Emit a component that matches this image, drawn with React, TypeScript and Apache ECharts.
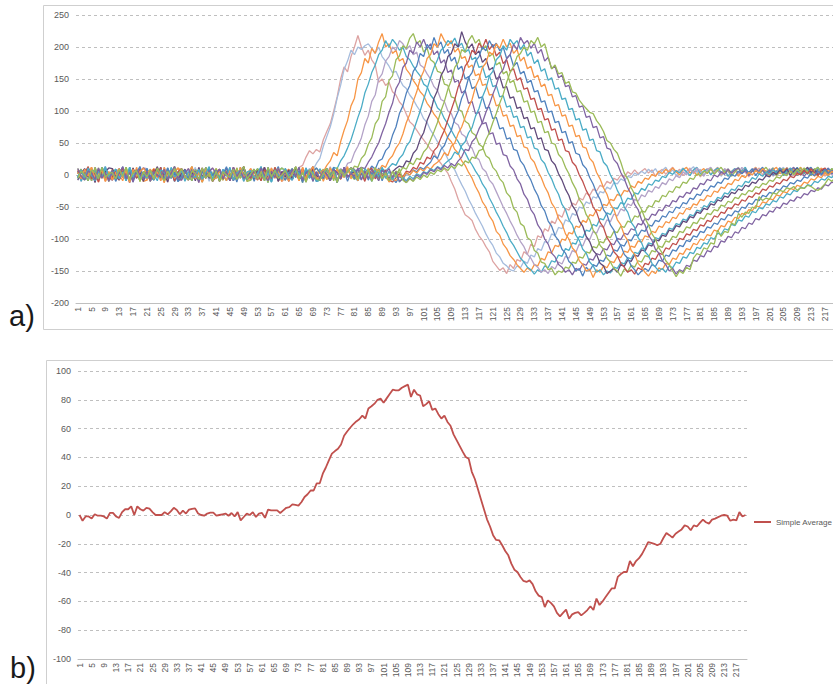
import React, { useEffect, useRef } from "react";
import * as echarts from "echarts";

// Category labels 1..220 (sample index)
const CATEGORIES: string[] = Array.from({ length: 220 }, (_, i) => String(i + 1));

const SERIES_COLORS = [
  "#DDA3A2", "#A5BCDD", "#F79646", "#4BACC6", "#B3A2C7", "#9BBB59",
  "#8064A2", "#4F81BD", "#F79646", "#4BACC6", "#604A7B", "#9BBB59",
  "#C0504D", "#4F81BD", "#F79646", "#4BACC6", "#8064A2", "#9BBB59",
];

const S01 = [
  4, -6, 9, -2, 12, -8, 3, 7, -10, 5,
  -3, 8, -7, 11, 0, -9, 6, -4, 10, -1,
  7, -5, 2, 13, -6, 4, -11, 8, 1, -7,
  -8, 3, 10, -4, 6, -12, 9, -2, 5, 11,
  2, 9, -6, 5, -9, 12, -3, 7, -5, 0,
  10, -2, -8, 6, 3, -7, 11, -5, 4, -10,
  -5, 6, 1,
  5, 12, 15, 28, 38, 33, 40, 36, 55, 68,
  80, 100, 122, 150, 169, 161, 185, 200, 218, 200,
  187, 195, 180, 172, 145, 150, 140, 145, 130, 125,
  114, 108, 95, 83, 78, 70, 62, 55, 48, 40,
  35, 25, 18, 10, 3, -10, -22, -38, -50, -62,
  -66, -71, -85, -95, -102, -112, -120, -135, -142, -149,
  -145, -154, -140, -146, -132, -135, -120, -124, -108, -112,
  -95, -98, -84, -88, -72, -76, -62, -66, -52, -55,
  -44, -47, -36, -39, -28, -32, -22, -25, -16, -19,
  -10, -13, -5, -8, 0, -4, 5, 1, 8, 2,
  6, 10, 3, 8, -2, 5, 9, 1, 7, 12,
  4, 9, -1, 6, 11, 2, 8, -3, 5, 10,
  1, 7, 12, 3, 9, -2, 6, 10, 0, 8,
  4, -3, 9, 5, 11, 0, 7, 3, 10, -2,
  6, 9, 2, 8, -1, 5, 11, 4, 7, 0,
  8, 3, 10, -2, 6, 9, 2,
];

const S02 = [
  -3, 8, -7, 11, 0, -9, 6, -4, 10, -1,
  6, -10, 5, 0, -4, 9, -7, 3, 13, -6,
  2, 9, -6, 5, -9, 12, -3, 7, -5, 0,
  4, -6, 9, -2, 12, -8, 3, 7, -10, 5,
  -5, 6, 1, -9, 8, 4, -6, 12, -3, 2,
  7, -5, 2, 13, -6, 4, -11, 8, 1, -7,
  10, -2, -8, 6, 3, -7,
  4, 10, 8, 18, 26, 45, 60, 75, 95, 120,
  140, 165, 178, 195, 188, 200, 196, 202, 205, 198,
  190, 200, 185, 178, 170, 160, 162, 150, 140, 135,
  125, 118, 108, 100, 88, 82, 70, 62, 52, 45,
  36, 25, 15, 8, -4, -15, -25, -38, -48, -60,
  -70, -80, -92, -102, -110, -122, -128, -138, -142, -148,
  -150, -142, -145, -135, -138, -125, -128, -115, -118, -104,
  -106, -92, -95, -82, -84, -70, -73, -60, -63, -50,
  -52, -42, -45, -34, -36, -26, -28, -19, -22, -12,
  -14, -6, -9, -2, -4, 3, 0, 6, 2, 9,
  4, 10, 1, 7, 12, 3, 8, -1, 6, 11,
  2, 8, 13, 4, 9, 0, 6, 11, 3, 8,
  -2, 5, 10, 1, 7, 12, 4, 9, -1, 6,
  11, 3, 8, 0, 5, 10, 2, 7, 12, 4,
  9, 1, 6, 10, 3, 8, -1, 5, 11, 2,
  7, 3, 9, 1,
];

const S03 = [
  7, -5, 2, 13, -6, 4, -11, 8, 1, -7,
  10, -2, -8, 6, 3, -7, 11, -5, 4, -10,
  -8, 3, 10, -4, 6, -12, 9, -2, 5, 11,
  -3, 8, -7, 11, 0, -9, 6, -4, 10, -1,
  6, -10, 5, 0, -4, 9, -7, 3, 13, -6,
  4, -6, 9, -2, 12, -8, 3, 7, -10, 5,
  2, 9, -6, 5, -9, 12, -3, 7, -5,
  2, 8, 5, 15, 22, 35, 30, 52, 70, 85,
  108, 120, 150, 160, 182, 175, 198, 190, 208, 221,
  200, 205, 190, 195, 178, 182, 165, 158, 148, 140,
  130, 124, 112, 105, 95, 88, 76, 70, 58, 52,
  40, 34, 22, 15, 4, -5, -18, -28, -42, -50,
  -64, -72, -88, -94, -108, -115, -126, -132, -140, -146,
  -152, -145, -150, -140, -142, -130, -133, -120, -122, -110,
  -112, -100, -102, -90, -92, -80, -82, -71, -74, -62,
  -64, -54, -56, -46, -48, -38, -40, -30, -33, -24,
  -26, -17, -20, -10, -13, -5, -7, 1, -2, 6,
  2, 9, 4, 11, 5, 0, 8, 12, 3, 7,
  -1, 6, 10, 2, 9, 4, 11, 0, 6, 9,
  3, 8, -2, 5, 10, 1, 7, 12, 4, 8,
  0, 6, 11, 3, 9, -1, 5, 10, 2, 7,
  12, 4, 8, 0, 6, 10, 3, 9, 1, 5,
  8,
];

const S04 = [
  -5, 6, 1, -9, 8, 4, -6, 12, -3, 2,
  2, 9, -6, 5, -9, 12, -3, 7, -5, 0,
  4, -6, 9, -2, 12, -8, 3, 7, -10, 5,
  7, -5, 2, 13, -6, 4, -11, 8, 1, -7,
  -3, 8, -7, 11, 0, -9, 6, -4, 10, -1,
  -8, 3, 10, -4, 6, -12, 9, -2, 5, 11,
  6, -10, 5, 0, -4, 9, -7, 3, 13, -6,
  10, -2,
  5, 2, 12, 10, 22, 30, 42, 55, 72, 90,
  105, 128, 142, 160, 172, 188, 195, 210, 200, 212,
  205, 195, 200, 185, 180, 170, 162, 155, 142, 138,
  125, 118, 105, 100, 88, 80, 70, 60, 52, 42,
  35, 24, 16, 6, -2, -14, -22, -36, -46, -58,
  -68, -80, -90, -102, -110, -120, -130, -136, -144, -148,
  -155, -148, -152, -142, -145, -134, -136, -125, -127, -115,
  -118, -106, -108, -96, -98, -86, -88, -77, -80, -68,
  -70, -59, -62, -51, -53, -43, -46, -36, -38, -28,
  -30, -21, -24, -14, -16, -8, -10, -2, -4, 4,
  1, 7, 3, 10, 5, -1, 8, 12, 2, 6,
  9, 0, 7, 11, 4, 8, -2, 5, 10, 3,
  7, 12, 1, 6, 9, 3, 8, -1, 5, 11,
  2, 8, 4, 10, 0, 6, 12, 3, 7, 1,
  9, 5, 11, 2, 7, 4, 10, 3,
];

const S05 = [
  6, -10, 5, 0, -4, 9, -7, 3, 13, -6,
  -8, 3, 10, -4, 6, -12, 9, -2, 5, 11,
  10, -2, -8, 6, 3, -7, 11, -5, 4, -10,
  -5, 6, 1, -9, 8, 4, -6, 12, -3, 2,
  4, -6, 9, -2, 12, -8, 3, 7, -10, 5,
  2, 9, -6, 5, -9, 12, -3, 7, -5, 0,
  -3, 8, -7, 11, 0, -9, 6, -4, 10, -1,
  7, -5, 2, 13, -6,
  3, 10, 6, 18, 20, 35, 45, 58, 78, 92,
  115, 125, 150, 158, 178, 185, 200, 195, 210, 205,
  196, 202, 188, 192, 172, 168, 158, 150, 138, 132,
  118, 115, 100, 96, 82, 78, 64, 60, 46, 42,
  28, 24, 10, 5, -8, -14, -26, -38, -50, -60,
  -72, -82, -94, -104, -112, -124, -130, -140, -144, -152,
  -148, -154, -143, -147, -136, -139, -127, -130, -118, -121,
  -108, -111, -98, -101, -88, -91, -79, -82, -70, -73,
  -61, -64, -53, -56, -45, -48, -38, -41, -31, -34,
  -24, -27, -18, -21, -12, -15, -6, -9, -1, -4,
  5, 0, 9, 3, 11, 6, -2, 8, 12, 4,
  7, 1, 10, 5, -1, 9, 3, 12, 6, 0,
  8, 11, 2, 7, 4, 10, -2, 6, 9, 3,
  12, 5, 1, 8, 10, 4, 7, -1, 6, 11,
  3, 9, 5, 0, 8,
];

const S06 = [
  10, -2, -8, 6, 3, -7, 11, -5, 4, -10,
  4, -6, 9, -2, 12, -8, 3, 7, -10, 5,
  -3, 8, -7, 11, 0, -9, 6, -4, 10, -1,
  7, -5, 2, 13, -6, 4, -11, 8, 1, -7,
  6, -10, 5, 0, -4, 9, -7, 3, 13, -6,
  -5, 6, 1, -9, 8, 4, -6, 12, -3, 2,
  -8, 3, 10, -4, 6, -12, 9, -2, 5, 11,
  2, 9, -6, 5, -9, 12, -3, 7,
  6, 4, 14, 12, 26, 32, 48, 58, 80, 88,
  115, 122, 148, 155, 180, 186, 202, 198, 214, 221,
  205, 210, 192, 198, 180, 176, 162, 160, 142, 140,
  122, 120, 102, 100, 84, 80, 66, 62, 48, 44,
  30, 26, 12, 6, -6, -12, -28, -34, -52, -58,
  -76, -80, -98, -102, -118, -122, -136, -138, -148, -146,
  -156, -150, -152, -144, -146, -136, -138, -128, -130, -120,
  -122, -112, -114, -104, -106, -96, -98, -88, -90, -80,
  -82, -72, -74, -64, -66, -56, -58, -48, -50, -40,
  -42, -32, -34, -25, -27, -18, -20, -11, -13, -5,
  -7, 2, -1, 6, 3, 10, 1, 7, 12, 4,
  8, -2, 5, 11, 3, 9, 0, 6, 10, 2,
  7, 12, 4, 9, -1, 5, 10, 3, 8, 1,
  6, 11, 2, 8, 4, 10, -1, 7, 3, 9,
  5, 1,
];

const S07 = [
  2, 9, -6, 5, -9, 12, -3, 7, -5, 0,
  -8, 3, 10, -4, 6, -12, 9, -2, 5, 11,
  6, -10, 5, 0, -4, 9, -7, 3, 13, -6,
  10, -2, -8, 6, 3, -7, 11, -5, 4, -10,
  -3, 8, -7, 11, 0, -9, 6, -4, 10, -1,
  4, -6, 9, -2, 12, -8, 3, 7, -10, 5,
  7, -5, 2, 13, -6, 4, -11, 8, 1, -7,
  -5, 6, 1, -9, 8, 4, -6, 12, -3, 2,
  6,
  8, 12, 10, 20, 28, 40, 50, 66, 80, 98,
  112, 135, 145, 168, 175, 195, 190, 208, 200, 212,
  198, 205, 188, 194, 175, 180, 160, 164, 145, 148,
  128, 132, 112, 115, 96, 98, 80, 82, 64, 66,
  48, 50, 32, 30, 14, 8, -6, -14, -30, -38,
  -54, -62, -78, -86, -100, -108, -122, -128, -140, -144,
  -152, -148, -156, -146, -149, -139, -141, -131, -133, -123,
  -125, -115, -117, -107, -109, -99, -101, -91, -93, -84,
  -86, -76, -78, -68, -70, -61, -63, -54, -56, -47,
  -49, -40, -42, -33, -35, -27, -29, -20, -22, -13,
  -15, -7, -9, 0, -3, 5, 1, 9, 3, 8,
  11, 2, 7, -1, 6, 10, 4, 8, 0, 5,
  9, 3, 11, 6, 1, 8, 12, 4, 7, -2,
  5, 10, 3, 8, 0, 6, 11, 2, 7,
];

const S08 = [
  -3, 8, -7, 11, 0, -9, 6, -4, 10, -1,
  7, -5, 2, 13, -6, 4, -11, 8, 1, -7,
  4, -6, 9, -2, 12, -8, 3, 7, -10, 5,
  -5, 6, 1, -9, 8, 4, -6, 12, -3, 2,
  2, 9, -6, 5, -9, 12, -3, 7, -5, 0,
  6, -10, 5, 0, -4, 9, -7, 3, 13, -6,
  10, -2, -8, 6, 3, -7, 11, -5, 4, -10,
  -8, 3, 10, -4, 6, -12, 9, -2, 5, 11,
  3, -4, 8, 2,
  5, 14, 9, 22, 25, 38, 44, 62, 75, 96,
  108, 128, 140, 162, 170, 190, 185, 204, 196, 215,
  200, 208, 190, 196, 178, 184, 165, 170, 150, 154,
  135, 138, 120, 122, 104, 106, 88, 90, 72, 74,
  56, 58, 40, 38, 22, 15, 2, -8, -22, -32,
  -48, -56, -72, -80, -95, -102, -116, -122, -135, -140,
  -150, -146, -158, -144, -150, -140, -143, -133, -135, -125,
  -127, -117, -119, -109, -111, -101, -103, -93, -95, -86,
  -88, -78, -80, -71, -73, -64, -66, -57, -59, -50,
  -52, -43, -45, -36, -38, -30, -32, -23, -25, -17,
  -19, -11, -13, -5, -7, 1, -2, 6, 2, 9,
  4, 10, -1, 7, 12, 3, 8, 0, 6, 11,
  2, 8, 5, 10, -1, 7, 3, 9, 12, 4,
  8, 1, 6, 10, 3, 7,
];

const S09 = [
  4, -6, 9, -2, 12, -8, 3, 7, -10, 5,
  -5, 6, 1, -9, 8, 4, -6, 12, -3, 2,
  -8, 3, 10, -4, 6, -12, 9, -2, 5, 11,
  7, -5, 2, 13, -6, 4, -11, 8, 1, -7,
  10, -2, -8, 6, 3, -7, 11, -5, 4, -10,
  -3, 8, -7, 11, 0, -9, 6, -4, 10, -1,
  2, 9, -6, 5, -9, 12, -3, 7, -5, 0,
  6, -10, 5, 0, -4, 9, -7, 3, 13, -6,
  5, -3, 9, 2, 7, 4, 10,
  6, 15, 12, 24, 30, 42, 50, 64, 82, 95,
  115, 130, 150, 162, 182, 188, 205, 200, 221, 210,
  202, 210, 192, 198, 182, 185, 168, 172, 155, 158,
  140, 142, 125, 126, 108, 110, 92, 94, 76, 78,
  60, 62, 44, 42, 26, 20, 6, -4, -18, -28,
  -44, -52, -68, -76, -92, -100, -114, -120, -134, -140,
  -150, -147, -160, -148, -152, -142, -145, -135, -137, -127,
  -129, -119, -121, -111, -113, -103, -105, -95, -97, -88,
  -90, -80, -82, -73, -75, -66, -68, -59, -61, -52,
  -54, -45, -47, -38, -40, -32, -34, -25, -27, -19,
  -21, -13, -15, -7, -9, -1, -4, 4, 0, 7,
  3, 10, 5, -1, 8, 12, 2, 7, 11, 4,
  9, 0, 6, 10, 3, 8, -2, 5, 11, 2,
  7, 4, 9,
];

const S10 = [
  6, -10, 5, 0, -4, 9, -7, 3, 13, -6,
  2, 9, -6, 5, -9, 12, -3, 7, -5, 0,
  10, -2, -8, 6, 3, -7, 11, -5, 4, -10,
  -3, 8, -7, 11, 0, -9, 6, -4, 10, -1,
  -5, 6, 1, -9, 8, 4, -6, 12, -3, 2,
  7, -5, 2, 13, -6, 4, -11, 8, 1, -7,
  4, -6, 9, -2, 12, -8, 3, 7, -10, 5,
  -8, 3, 10, -4, 6, -12, 9, -2, 5, 11,
  -4, -9, 2, -6, 5, -2, 8, 3, 10, 6,
  12, 18, 15, 26, 32, 45, 52, 68, 84, 100,
  118, 135, 152, 168, 180, 195, 200, 210, 205, 214,
  200, 206, 192, 196, 180, 184, 168, 170, 152, 156,
  138, 140, 122, 124, 106, 108, 90, 92, 74, 76,
  58, 60, 42, 40, 24, 18, 4, -6, -20, -30,
  -46, -54, -70, -78, -94, -102, -116, -122, -136, -142,
  -152, -148, -156, -150, -153, -144, -146, -137, -139, -129,
  -131, -121, -123, -114, -116, -106, -108, -98, -100, -91,
  -93, -83, -85, -76, -78, -69, -71, -62, -64, -55,
  -57, -48, -50, -41, -43, -35, -37, -28, -30, -22,
  -24, -16, -18, -10, -12, -4, -7, 2, -2, 5,
  1, 8, 3, 10, -1, 6, 11, 4, 8, 0,
  5, 10, 2, 7, 12, 3, 9, -1, 6, 4,
];

const S11 = [
  -8, 3, 10, -4, 6, -12, 9, -2, 5, 11,
  10, -2, -8, 6, 3, -7, 11, -5, 4, -10,
  7, -5, 2, 13, -6, 4, -11, 8, 1, -7,
  2, 9, -6, 5, -9, 12, -3, 7, -5, 0,
  6, -10, 5, 0, -4, 9, -7, 3, 13, -6,
  4, -6, 9, -2, 12, -8, 3, 7, -10, 5,
  -3, 8, -7, 11, 0, -9, 6, -4, 10, -1,
  -5, 6, 1, -9, 8, 4, -6, 12, -3, 2,
  5, -8, 11, -3, 7, -9, 4, -5, 9, 2,
  -6, 5, 10,
  14, 12, 22, 20, 34, 40, 56, 66, 85, 98,
  120, 132, 155, 165, 185, 190, 205, 200, 224, 208,
  198, 205, 188, 194, 176, 182, 164, 168, 150, 154,
  136, 138, 120, 122, 104, 106, 88, 90, 72, 74,
  56, 58, 40, 38, 22, 16, 2, -8, -22, -32,
  -48, -56, -72, -80, -96, -104, -118, -124, -138, -142,
  -154, -150, -146, -152, -140, -143, -133, -135, -125, -127,
  -117, -119, -109, -111, -101, -103, -94, -96, -86, -88,
  -79, -81, -72, -74, -65, -67, -58, -60, -52, -54,
  -45, -47, -39, -41, -33, -35, -27, -29, -22, -24,
  -16, -18, -11, -13, -6, -8, -1, -3, 4, 1,
  8, 3, 10, -1, 6, 11, 2, 7, 12, 4,
  9, 0, 6, 10, 3, 8, 5,
];

const S12 = [
  2, 9, -6, 5, -9, 12, -3, 7, -5, 0,
  4, -6, 9, -2, 12, -8, 3, 7, -10, 5,
  6, -10, 5, 0, -4, 9, -7, 3, 13, -6,
  -5, 6, 1, -9, 8, 4, -6, 12, -3, 2,
  10, -2, -8, 6, 3, -7, 11, -5, 4, -10,
  -8, 3, 10, -4, 6, -12, 9, -2, 5, 11,
  7, -5, 2, 13, -6, 4, -11, 8, 1, -7,
  -3, 8, -7, 11, 0, -9, 6, -4, 10, -1,
  -7, 4, 10, -5, 8, -2, 12, -8, 3, -4,
  -9, -2, 6, 3, 12, 9,
  20, 16, 26, 24, 36, 42, 55, 68, 82, 100,
  115, 134, 148, 168, 176, 196, 192, 210, 218, 206,
  212, 196, 202, 185, 190, 172, 176, 158, 162, 144,
  148, 130, 132, 114, 116, 98, 100, 82, 84, 66,
  68, 50, 48, 32, 26, 12, 2, -12, -22, -38,
  -46, -62, -70, -86, -94, -110, -116, -130, -136, -146,
  -150, -158, -147, -151, -141, -144, -134, -136, -126, -128,
  -118, -120, -111, -113, -103, -105, -96, -98, -88, -90,
  -81, -83, -74, -76, -67, -69, -60, -62, -54, -56,
  -47, -49, -41, -43, -35, -37, -29, -31, -24, -26,
  -18, -20, -13, -15, -8, -10, -3, -5, 2, -1,
  6, 1, 9, 3, 11, 5, -1, 8, 12, 4,
  7, 2, 10, 5,
];

const S13 = [
  7, -5, 2, 13, -6, 4, -11, 8, 1, -7,
  -3, 8, -7, 11, 0, -9, 6, -4, 10, -1,
  4, -6, 9, -2, 12, -8, 3, 7, -10, 5,
  10, -2, -8, 6, 3, -7, 11, -5, 4, -10,
  2, 9, -6, 5, -9, 12, -3, 7, -5, 0,
  -5, 6, 1, -9, 8, 4, -6, 12, -3, 2,
  6, -10, 5, 0, -4, 9, -7, 3, 13, -6,
  -8, 3, 10, -4, 6, -12, 9, -2, 5, 11,
  9, -4, 3, -10, 6, 11, -6, 2, -3, 8,
  -8, -11, -4, 2, -3, 6, 4, 12, 9,
  20, 17, 28, 25, 38, 44, 58, 70, 86, 102,
  118, 138, 150, 170, 178, 195, 190, 206, 198, 212,
  196, 204, 186, 192, 174, 180, 162, 166, 148, 152,
  134, 136, 118, 120, 102, 104, 86, 88, 70, 72,
  54, 56, 38, 36, 20, 14, 0, -10, -24, -34,
  -50, -58, -74, -82, -98, -106, -120, -126, -138, -144,
  -152, -148, -155, -145, -148, -138, -140, -130, -132, -122,
  -124, -114, -116, -107, -109, -99, -101, -92, -94, -85,
  -87, -78, -80, -71, -73, -64, -66, -58, -60, -51,
  -53, -45, -47, -39, -41, -33, -35, -28, -30, -22,
  -24, -17, -19, -12, -14, -7, -9, -2, -4, 3,
  0, 7, 2, 10, 4, -1, 8, 11, 3, 6,
  9,
];

const S14 = [
  -5, 6, 1, -9, 8, 4, -6, 12, -3, 2,
  6, -10, 5, 0, -4, 9, -7, 3, 13, -6,
  10, -2, -8, 6, 3, -7, 11, -5, 4, -10,
  -3, 8, -7, 11, 0, -9, 6, -4, 10, -1,
  7, -5, 2, 13, -6, 4, -11, 8, 1, -7,
  2, 9, -6, 5, -9, 12, -3, 7, -5, 0,
  -8, 3, 10, -4, 6, -12, 9, -2, 5, 11,
  4, -6, 9, -2, 12, -8, 3, 7, -10, 5,
  -6, 10, 2, 7, -8, 4, -3, 11, -9, 5,
  -10, -5, -12, -2, -7, 3, 0, 8, 5, 12,
  9, 15,
  20, 30, 26, 40, 46, 60, 70, 88, 100, 120,
  132, 152, 160, 178, 185, 200, 194, 210, 200, 206,
  194, 200, 182, 188, 170, 176, 158, 162, 144, 148,
  130, 132, 114, 116, 98, 100, 82, 84, 66, 68,
  50, 52, 34, 32, 16, 10, -4, -14, -28, -38,
  -54, -62, -78, -86, -102, -110, -124, -130, -142, -148,
  -156, -150, -146, -150, -140, -143, -133, -135, -125, -127,
  -117, -119, -110, -112, -102, -104, -95, -97, -88, -90,
  -81, -83, -75, -77, -68, -70, -62, -64, -56, -58,
  -50, -52, -44, -46, -38, -40, -32, -34, -27, -29,
  -22, -24, -17, -19, -12, -14, -8, -10, -3, -5,
  2, -1, 6, 1, 9, 3, 7, 2,
];

const S15 = [
  4, -6, 9, -2, 12, -8, 3, 7, -10, 5,
  -8, 3, 10, -4, 6, -12, 9, -2, 5, 11,
  2, 9, -6, 5, -9, 12, -3, 7, -5, 0,
  7, -5, 2, 13, -6, 4, -11, 8, 1, -7,
  -5, 6, 1, -9, 8, 4, -6, 12, -3, 2,
  10, -2, -8, 6, 3, -7, 11, -5, 4, -10,
  6, -10, 5, 0, -4, 9, -7, 3, 13, -6,
  -3, 8, -7, 11, 0, -9, 6, -4, 10, -1,
  3, -9, 8, -2, 11, -6, 5, 9, -4, 1,
  -11, -6, -9, -1, -5, 4, 0, 7, 3, 10,
  6, 13, 9, 16, 20,
  25, 35, 30, 45, 50, 65, 75, 90, 105, 118,
  138, 150, 168, 175, 192, 188, 205, 198, 212, 200,
  206, 190, 196, 178, 184, 166, 170, 152, 156, 138,
  142, 124, 126, 108, 110, 92, 94, 76, 78, 60,
  62, 44, 42, 26, 20, 4, -6, -20, -30, -46,
  -54, -70, -78, -94, -102, -118, -124, -138, -144, -152,
  -158, -150, -154, -145, -148, -138, -140, -130, -132, -122,
  -124, -115, -117, -107, -109, -100, -102, -93, -95, -86,
  -88, -79, -81, -72, -74, -66, -68, -60, -62, -54,
  -56, -48, -50, -42, -44, -37, -39, -31, -33, -26,
  -28, -21, -23, -16, -18, -11, -13, -6, -8, -2,
  -4, 3, -1, 6, 2,
];

const S16 = [
  -3, 8, -7, 11, 0, -9, 6, -4, 10, -1,
  2, 9, -6, 5, -9, 12, -3, 7, -5, 0,
  -5, 6, 1, -9, 8, 4, -6, 12, -3, 2,
  6, -10, 5, 0, -4, 9, -7, 3, 13, -6,
  4, -6, 9, -2, 12, -8, 3, 7, -10, 5,
  7, -5, 2, 13, -6, 4, -11, 8, 1, -7,
  10, -2, -8, 6, 3, -7, 11, -5, 4, -10,
  -8, 3, 10, -4, 6, -12, 9, -2, 5, 11,
  8, -1, -7, 10, 4, -10, 7, -3, 12, -5,
  6, -8, 3, -11, -4, -9, -2, -6, 2, -1,
  5, 3, 10, 7, 13, 10, 17, 22,
  26, 36, 32, 46, 52, 66, 74, 92, 104, 122,
  135, 155, 162, 180, 186, 202, 195, 212, 204, 210,
  196, 204, 186, 192, 174, 180, 162, 166, 148, 152,
  134, 136, 118, 120, 102, 104, 86, 88, 70, 72,
  54, 56, 38, 36, 20, 14, 0, -10, -24, -34,
  -50, -58, -74, -82, -98, -106, -120, -126, -138, -144,
  -150, -146, -152, -142, -145, -136, -138, -128, -130, -121,
  -123, -113, -115, -106, -108, -98, -100, -91, -93, -84,
  -86, -77, -79, -70, -72, -64, -66, -57, -59, -51,
  -53, -45, -47, -40, -42, -34, -36, -29, -31, -24,
  -26, -19, -21, -15, -17, -10, -12, -6, -8, -2,
  -4, 2,
];

const S17 = [
  10, -2, -8, 6, 3, -7, 11, -5, 4, -10,
  7, -5, 2, 13, -6, 4, -11, 8, 1, -7,
  6, -10, 5, 0, -4, 9, -7, 3, 13, -6,
  -8, 3, 10, -4, 6, -12, 9, -2, 5, 11,
  2, 9, -6, 5, -9, 12, -3, 7, -5, 0,
  -3, 8, -7, 11, 0, -9, 6, -4, 10, -1,
  4, -6, 9, -2, 12, -8, 3, 7, -10, 5,
  -5, 6, 1, -9, 8, 4, -6, 12, -3, 2,
  -2, 11, -8, 6, -5, 9, 1, -9, 7, 3,
  10, -4, 5, -10, -6, -12, -5, -9, 0, -4,
  4, 1, 8, 5, 12, 8, 15, 11, 18, 14,
  22,
  28, 40, 38, 52, 58, 72, 82, 98, 110, 126,
  140, 158, 165, 182, 188, 204, 196, 215, 205, 210,
  198, 206, 190, 196, 178, 184, 166, 170, 152, 156,
  138, 140, 122, 124, 106, 108, 90, 92, 74, 76,
  58, 60, 42, 40, 24, 18, 4, -6, -20, -30,
  -46, -54, -70, -78, -94, -102, -116, -122, -134, -140,
  -150, -146, -155, -148, -151, -141, -143, -133, -135, -126,
  -128, -118, -120, -111, -113, -103, -105, -96, -98, -89,
  -91, -82, -84, -75, -77, -68, -70, -62, -64, -56,
  -58, -50, -52, -44, -46, -39, -41, -34, -36, -29,
  -31, -24, -26, -20, -22, -15, -17, -11, -13,
];

const S18 = [
  -5, 6, 1, -9, 8, 4, -6, 12, -3, 2,
  4, -6, 9, -2, 12, -8, 3, 7, -10, 5,
  -3, 8, -7, 11, 0, -9, 6, -4, 10, -1,
  10, -2, -8, 6, 3, -7, 11, -5, 4, -10,
  6, -10, 5, 0, -4, 9, -7, 3, 13, -6,
  2, 9, -6, 5, -9, 12, -3, 7, -5, 0,
  7, -5, 2, 13, -6, 4, -11, 8, 1, -7,
  -8, 3, 10, -4, 6, -12, 9, -2, 5, 11,
  5, -7, 12, -3, 9, -10, 2, 8, -6, 4,
  -9, 6, -4, 10, -8, -12, -6, -10, -3, -7,
  0, -4, 4, 1, 8, 5, 11, 7, 14, 10,
  18, 14, 22, 19,
  28, 26, 38, 40, 55, 66, 82, 96, 112, 126,
  145, 160, 170, 185, 190, 200, 195, 210, 205, 215,
  200, 205, 185, 166, 172, 158, 160, 143, 146, 130,
  128, 117, 110, 104, 98, 96, 85, 78, 68, 54,
  50, 40, 34, 20, 3, -6, -20, -30, -44, -54,
  -68, -78, -92, -100, -114, -122, -134, -140, -150, -159,
  -150, -154, -144, -148, -130, -123, -125, -114, -116, -106,
  -108, -86, -96, -88, -90, -75, -78, -60, -66, -58,
  -60, -50, -52, -34, -40, -36, -38, -28, -30, -24,
  -26, -20, -22, -18, -24, -20, -21, -16, -18, -22,
  -24, -20, -14, -6, -10, -4,
];

const WAVES = [S01, S02, S03, S04, S05, S06, S07, S08, S09, S10, S11, S12, S13, S14, S15, S16, S17, S18];

const SIMPLE_AVERAGE = [
  0, -4, -1, -1, -2.5, 0.5, -0.5, -0.5, -1, -2.5,
  1.5, 1.5, -1, -2, 2, 4, 4, 6, 0, 6,
  4, 3, 5, 4.4, 2, 0, 0, 0, 2, 0.5,
  2.5, 5, 3.5, 0.5, 3, 1, 3.7, 4.2, 4.6, 1,
  0, -0.5, 1, 1.6, 1.6, -0.5, 0, 0.5, 1, -0.5,
  1.4, -1, 2, -3.7, -1.4, 1, 0, 2, -1.4, 1,
  1.4, -2, 3.7, 3.2, 3.2, 3.2, 1.4, 3.2, 5, 5.5,
  7.4, 7, 6.5, 9, 12.5, 14.4, 17, 17, 22, 22,
  28.7, 33, 38, 42.6, 44.4, 46, 49, 55, 58, 60.6,
  63, 65, 66.5, 69, 67, 74, 75.5, 77.3, 80, 80.8,
  78, 81, 84, 87, 86.6, 86.6, 88.4, 89.5, 90.5, 82,
  87, 83.8, 83, 75.5, 77, 79, 73, 74, 70, 67,
  69, 64.6, 62, 56, 52, 48, 44, 40.3, 39, 30,
  25, 18, 11, 4, -3, -8, -14, -17.3, -17.6, -21,
  -25, -28, -33.8, -38, -39.6, -43, -45.8, -46.5, -45.4, -48,
  -53, -56, -57, -63.9, -59.3, -61, -63.4, -68, -70.4, -68,
  -65.7, -72, -69, -68, -67.4, -69.7, -68, -66, -63.4, -66,
  -58, -62.5, -60, -57, -54, -51, -51, -43, -41, -39.6,
  -39.6, -32, -35.6, -32, -30, -27, -23, -18.8, -19.4, -20,
  -21, -20, -16, -12.5, -14, -15.7, -13, -11.5, -10, -7.2,
  -8, -10.6, -7.2, -8, -5.5, -3.2, -5, -6, -3.2, -2.5,
  -1.5, -0.5, 0, -0.5, -4, -3.2, -3.7, 2, -1, 0,
];

const AVERAGE_NAME = "Simple Average";
const AVERAGE_COLOR = "#C0504D";
const FONT = "'Liberation Sans', Arial, sans-serif";

function categoryAxis(gridIndex: number) {
  return {
    type: "category" as const,
    gridIndex,
    data: CATEGORIES,
    boundaryGap: true,
    axisLine: { onZero: false, lineStyle: { color: "#BFBFBF", width: 1 } },
    axisTick: { interval: 0, length: 3, lineStyle: { color: "#BFBFBF" } },
    axisLabel: { interval: 3, rotate: 90, fontSize: 8.5, color: "#595959", margin: 4, fontFamily: FONT },
    splitLine: { show: false },
  };
}

function valueAxis(gridIndex: number, min: number, max: number, interval: number) {
  return {
    type: "value" as const,
    gridIndex,
    min,
    max,
    interval,
    axisLine: { show: false },
    axisTick: { show: false },
    axisLabel: { fontSize: 9, color: "#595959", margin: 7, fontFamily: FONT },
    splitLine: { show: true, lineStyle: { color: "#BFBFBF", type: [3, 3] as any, width: 1 } },
  };
}

export default function App() {
  const ref = useRef<HTMLDivElement>(null);

  useEffect(() => {
    if (!ref.current) return;
    const chart = echarts.init(ref.current, null, { renderer: "svg" });

    const waveSeries = WAVES.map((data, k) => ({
      name: `Series${k + 1}`,
      type: "line" as const,
      xAxisIndex: 0,
      yAxisIndex: 0,
      data,
      symbol: "none",
      showSymbol: false,
      silent: true,
      lineStyle: { width: 1.3, color: SERIES_COLORS[k] },
      itemStyle: { color: SERIES_COLORS[k] },
    }));

    chart.setOption({
      animation: false,
      backgroundColor: "#ffffff",
      textStyle: { fontFamily: FONT },
      grid: [
        { left: 76, top: 15, width: 761, height: 288 },
        { left: 78, top: 371, width: 669, height: 288 },
      ],
      xAxis: [categoryAxis(0), categoryAxis(1)],
      yAxis: [valueAxis(0, -200, 250, 50), valueAxis(1, -100, 100, 20)],
      legend: {
        data: [AVERAGE_NAME],
        left: 754,
        top: 518,
        padding: 0,
        itemWidth: 17,
        itemHeight: 2,
        icon: "rect",
        textStyle: { fontSize: 8, color: "#595959", fontFamily: FONT },
        selectedMode: false,
      },
      series: [
        ...waveSeries,
        {
          name: AVERAGE_NAME,
          type: "line",
          xAxisIndex: 1,
          yAxisIndex: 1,
          data: SIMPLE_AVERAGE,
          symbol: "none",
          showSymbol: false,
          silent: true,
          lineStyle: { width: 1.8, color: AVERAGE_COLOR },
          itemStyle: { color: AVERAGE_COLOR },
        },
      ],
      graphic: [
        {
          type: "rect",
          silent: true,
          shape: { x: 43.5, y: 5.5, width: 900, height: 324 },
          style: { fill: "none", stroke: "#CFCFCF", lineWidth: 1 },
        },
        {
          type: "rect",
          silent: true,
          shape: { x: 46.5, y: 360.5, width: 900, height: 400 },
          style: { fill: "none", stroke: "#CFCFCF", lineWidth: 1 },
        },
        {
          type: "text",
          x: 9,
          y: 316,
          style: { text: "a)", fontSize: 29, fontFamily: FONT, fill: "#1a1a1a", verticalAlign: "middle" },
        },
        {
          type: "text",
          x: 10,
          y: 668,
          style: { text: "b)", fontSize: 29, fontFamily: FONT, fill: "#1a1a1a", verticalAlign: "middle" },
        },
      ],
    });

    return () => chart.dispose();
  }, []);

  return (
    <div
      style={{
        position: "fixed",
        left: 0,
        top: 0,
        width: 833,
        height: 684,
        overflow: "hidden",
        background: "#ffffff",
      }}
    >
      <div ref={ref} style={{ width: 850, height: 684 }} />
    </div>
  );
}
